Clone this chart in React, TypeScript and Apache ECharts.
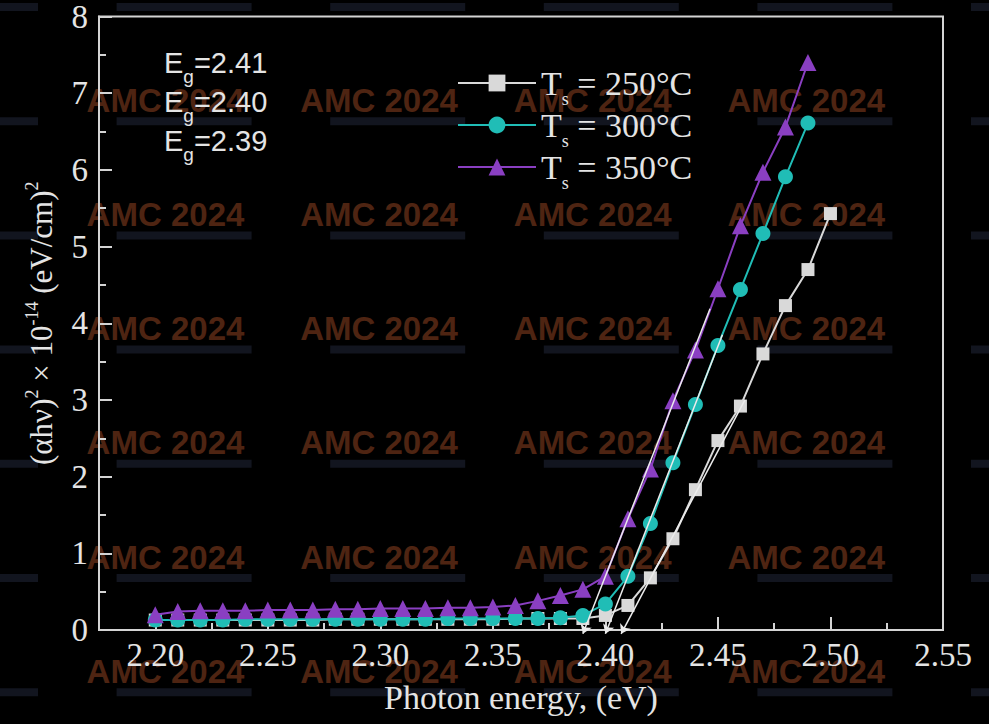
import React, { useEffect, useRef } from 'react';
import * as echarts from 'echarts';

// Photon energy (eV)
const energy250 = [2.20, 2.21, 2.22, 2.23, 2.24, 2.25, 2.26, 2.27, 2.28, 2.29, 2.30, 2.31, 2.32, 2.33, 2.34, 2.35, 2.36, 2.37, 2.38, 2.39, 2.40, 2.41, 2.42, 2.43, 2.44, 2.45, 2.46, 2.47, 2.48, 2.49, 2.50];
const energy300 = [2.20, 2.21, 2.22, 2.23, 2.24, 2.25, 2.26, 2.27, 2.28, 2.29, 2.30, 2.31, 2.32, 2.33, 2.34, 2.35, 2.36, 2.37, 2.38, 2.39, 2.40, 2.41, 2.42, 2.43, 2.44, 2.45, 2.46, 2.47, 2.48, 2.49];
const energy350 = [2.20, 2.21, 2.22, 2.23, 2.24, 2.25, 2.26, 2.27, 2.28, 2.29, 2.30, 2.31, 2.32, 2.33, 2.34, 2.35, 2.36, 2.37, 2.38, 2.39, 2.40, 2.41, 2.42, 2.43, 2.44, 2.45, 2.46, 2.47, 2.48, 2.49];

// (αhν)² × 10⁻¹⁴ (eV/cm)²
const ts250 = [0.13, 0.13, 0.13, 0.13, 0.13, 0.13, 0.13, 0.13, 0.14, 0.14, 0.14, 0.14, 0.14, 0.14, 0.14, 0.14, 0.15, 0.15, 0.15, 0.15, 0.19, 0.32, 0.68, 1.19, 1.83, 2.47, 2.92, 3.60, 4.23, 4.70, 5.43];
const ts300 = [0.13, 0.13, 0.13, 0.13, 0.14, 0.14, 0.14, 0.14, 0.14, 0.14, 0.14, 0.14, 0.14, 0.15, 0.15, 0.15, 0.15, 0.15, 0.16, 0.19, 0.34, 0.70, 1.39, 2.18, 2.94, 3.71, 4.44, 5.17, 5.91, 6.61];
const ts350 = [0.20, 0.24, 0.25, 0.25, 0.25, 0.26, 0.26, 0.26, 0.27, 0.27, 0.28, 0.28, 0.28, 0.29, 0.29, 0.30, 0.32, 0.38, 0.45, 0.53, 0.70, 1.45, 2.10, 2.99, 3.65, 4.45, 5.27, 5.97, 6.56, 7.40];

const seriesNames = ['Ts = 250°C', 'Ts = 300°C', 'Ts = 350°C'];

// Linear extrapolation to the energy axis (start on the fit, end at the intercept)
const fitStarts = [[2.4465, 4.19], [2.452, 3.85], [2.462, 3.0]];
const fitEnds = [[2.39, -0.05], [2.40, -0.05], [2.407, -0.05]];

const gapLabels = ['2.41', '2.40', '2.39'];

const xTickValues = [2.20, 2.25, 2.30, 2.35, 2.40, 2.45, 2.50, 2.55];
const xMinorValues = [2.225, 2.275, 2.325, 2.375, 2.425, 2.475, 2.525];

const pair = (xs: number[], ys: number[]) => xs.map((x, i) => [x, ys[i]]);

export default function App() {
  const ref = useRef<HTMLDivElement>(null);

  useEffect(() => {
    document.body.style.margin = '0';
    const chart = echarts.init(ref.current!, null, { renderer: 'svg' });

    const axisColor = '#d4d4d4';
    const textColor = '#e4e4e4';
    const serif = 'Liberation Serif';

    // watermark (background stamp of the source image)
    const wm: any[] = [];
    for (let r = 0; r < 7; r++) {
      for (let c = 0; c < 6; c++) {
        const x = -127 + c * 213.6;
        const y = -14 + r * 114.2;
        wm.push({
          type: 'rect',
          silent: true,
          z: -10,
          shape: { x: x + 30, y: y + 17, width: 135, height: 8 },
          style: { fill: '#12151f' },
        });
        if (r > 0 && c > 0 && c < 5) {
          wm.push({
            type: 'text',
            silent: true,
            z: -9,
            x,
            y,
            style: {
              text: 'AMC 2024',
              fill: '#4e2412',
              fontSize: 33,
              fontWeight: 'bold',
              fontFamily: 'Liberation Sans',
              verticalAlign: 'middle',
            },
          });
        }
      }
    }

    const gapTexts = gapLabels.map((g, i) => ({
      type: 'text',
      x: 164,
      y: 63 + i * 39,
      z: 10,
      style: {
        text: `{m|E}{s|g}{m|=${g}}`,
        fill: textColor,
        verticalAlign: 'middle',
        rich: {
          m: { fontSize: 29, lineHeight: 29, fontFamily: 'Liberation Sans', fill: textColor, verticalAlign: 'middle' },
          s: { fontSize: 19, lineHeight: 19, fontFamily: 'Liberation Sans', fill: textColor, padding: [27, 0, 0, 0], verticalAlign: 'middle' },
        },
      },
    }));

    const colors = ['#d9d9d9', '#20bdb6', '#8a3fc2'];
    const symbols = ['rect', 'circle', 'triangle'];
    const sizes = [13, 15, 17];
    const datas = [pair(energy250, ts250), pair(energy300, ts300), pair(energy350, ts350)];

    const lineSeries = seriesNames.map((name, i) => ({
      name,
      type: 'line',
      data: datas[i],
      symbol: symbols[i],
      symbolSize: sizes[i],
      showAllSymbol: true,
      z: 3 + i,
      lineStyle: { color: colors[i], width: 2 },
      itemStyle: { color: colors[i] },
    }));

    chart.setOption({
      animation: false,
      backgroundColor: '#000000',
      grid: { left: 99, top: 14, right: 46, bottom: 94, show: true, borderColor: axisColor, borderWidth: 2, containLabel: false },
      legend: {
        orient: 'vertical',
        left: 452,
        top: 53,
        itemWidth: 78,
        itemHeight: 21,
        itemGap: -8,
        data: seriesNames,
        formatter: (n: string) => `{t|T}{s|s}{t|${n.slice(2)}}`,
        textStyle: {
          color: textColor,
          rich: {
            t: { fontSize: 34, lineHeight: 34, fontFamily: serif, color: textColor, verticalAlign: 'middle' },
            s: { fontSize: 18, lineHeight: 18, fontFamily: serif, color: textColor, padding: [32, 0, 0, 0], verticalAlign: 'middle' },
          },
        },
      },
      xAxis: [
        {
          type: 'value',
          min: 2.175,
          max: 2.55,
          name: 'Photon energy, (eV)',
          nameLocation: 'middle',
          nameGap: 50,
          nameTextStyle: { fontSize: 34, fontFamily: serif, color: textColor },
          axisLine: { show: true, lineStyle: { color: axisColor, width: 2 } },
          axisTick: { show: true, inside: true, length: 13, customValues: xTickValues.slice(0, 7), lineStyle: { color: axisColor, width: 2 } },
          axisLabel: { customValues: xTickValues, formatter: (v: number) => v.toFixed(2), fontSize: 33, fontFamily: serif, color: textColor, margin: 8 },
          splitLine: { show: false },
        },
        {
          type: 'value',
          min: 2.175,
          max: 2.55,
          position: 'bottom',
          axisLine: { show: false },
          axisTick: { show: true, inside: true, length: 7, customValues: xMinorValues, lineStyle: { color: axisColor, width: 2 } },
          axisLabel: { show: false },
          splitLine: { show: false },
        },
      ],
      yAxis: {
        type: 'value',
        min: 0,
        max: 8,
        interval: 1,
        name: '{t|(αhν)}{p|2}{t| × 10}{p|-14}{t| (eV/cm)}{p|2}',
        nameLocation: 'middle',
        nameRotate: 90,
        nameGap: 38,
        nameTextStyle: {
          color: textColor,
          rich: {
            t: { fontSize: 31, lineHeight: 34, fontFamily: serif, color: textColor, verticalAlign: 'middle' },
            p: { fontSize: 18, lineHeight: 18, fontFamily: serif, color: textColor, padding: [0, 0, 20, 0], verticalAlign: 'middle' },
          },
        },
        axisLine: { show: true, lineStyle: { color: axisColor, width: 2 } },
        axisTick: { show: true, inside: true, length: 13, lineStyle: { color: axisColor, width: 2 } },
        minorTick: { show: true, splitNumber: 2, length: 7, lineStyle: { color: axisColor, width: 2 } },
        axisLabel: { fontSize: 33, fontFamily: serif, color: textColor, margin: 11 },
        splitLine: { show: false },
        minorSplitLine: { show: false },
      },
      graphic: [...wm, ...gapTexts],
      series: [
        ...lineSeries,
        {
          type: 'lines',
          coordinateSystem: 'cartesian2d',
          clip: false,
          silent: true,
          z: 7,
          symbol: ['none', 'arrow'],
          symbolSize: 9,
          lineStyle: { color: '#ececec', width: 1.5, opacity: 1 },
          data: fitStarts.map((s, i) => ({ coords: [s, fitEnds[i]] })),
        },
      ],
    } as any);

    return () => chart.dispose();
  }, []);

  return <div ref={ref} style={{ position: 'absolute', left: 0, top: 0, width: 989, height: 724, background: '#000' }} />;
}
